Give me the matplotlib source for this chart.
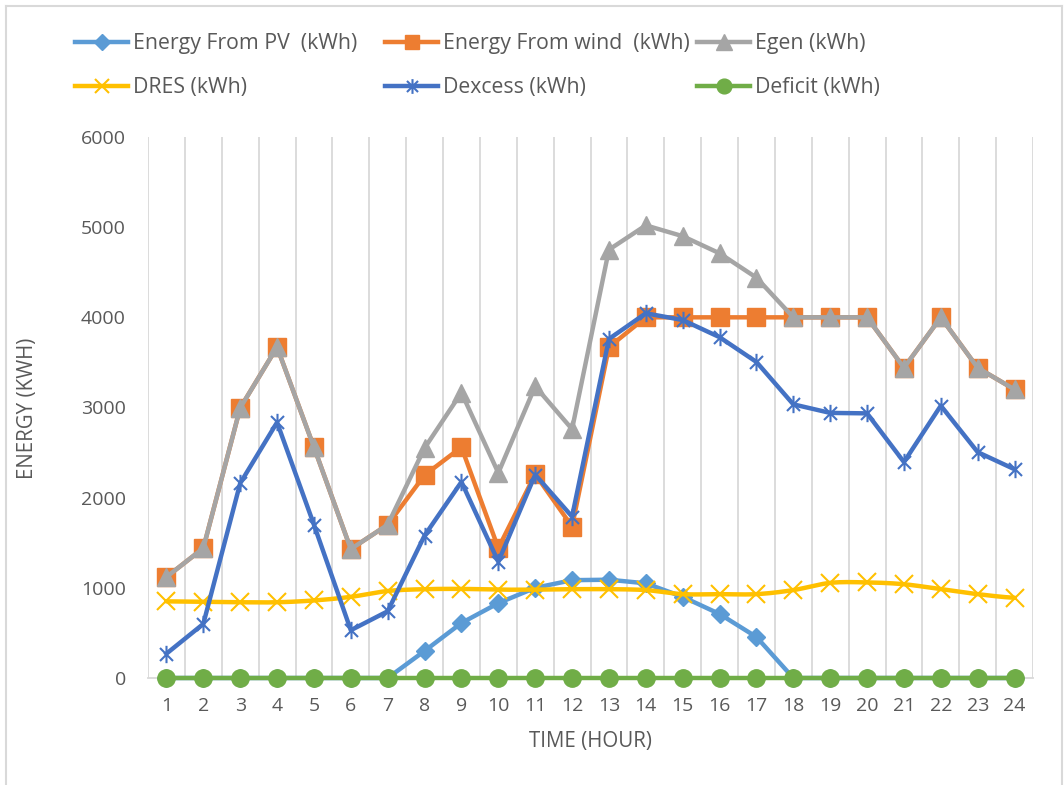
import numpy as np
import matplotlib
matplotlib.use("Agg")
import matplotlib.pyplot as plt
from matplotlib.lines import Line2D
from matplotlib.path import Path

hours = list(range(1, 25))
pv = [0, 0, 0, 0, 0, 0, 0, 300, 610, 830, 1000, 1085, 1090, 1050, 900, 710, 455, 0, 0, 0, 0, 0, 0, 0]
wind = [1120, 1440, 2995, 3670, 2560, 1430, 1700, 2250, 2560, 1440, 2260, 1680, 3670, 4000,
        4000, 4000, 4000, 4000, 4000, 4000, 3440, 4000, 3440, 3200]
egen = [1120, 1440, 2995, 3670, 2560, 1430, 1700, 2550, 3165, 2275, 3235, 2760, 4750, 5020,
        4900, 4710, 4440, 4000, 4000, 4000, 3440, 4000, 3440, 3200]
dres = [850, 845, 840, 840, 860, 900, 965, 985, 988, 980, 980, 985, 985, 975, 930, 930, 930,
        975, 1055, 1060, 1040, 985, 930, 890]
dexcess = [270, 600, 2160, 2835, 1700, 530, 740, 1580, 2175, 1290, 2255, 1790, 3760, 4045,
           3970, 3780, 3505, 3035, 2940, 2935, 2395, 3020, 2505, 2315]
deficit = [0] * 24
yticks = [0, 1000, 2000, 3000, 4000, 5000, 6000]

labels = ["Energy From PV  (kWh)", "Energy From wind  (kWh)", "Egen (kWh)",
          "DRES (kWh)", "Dexcess (kWh)", "Deficit (kWh)"]

FONT = "Open Sans"
TXT = "#595959"
plt.rcParams['font.family'] = [FONT, 'DejaVu Sans']

W, H = 1064, 785
fig = plt.figure(figsize=(W / 100, H / 100), dpi=100)
ax = fig.add_axes([148 / W, 1 - 678 / H, (1033 - 148) / W, (678 - 137) / H])

# chart border
for xs_, ys_ in [([6, 6], [785, 6]), ([1062, 1062], [785, 6]), ([6, 1062], [6, 6])]:
    fig.add_artist(Line2D([v / W for v in xs_], [1 - v / H for v in ys_], color="#D9D9D9",
                          lw=1.5, transform=fig.transFigure))

# asterisk marker (vertical + X)
d = 0.75
ast = Path([(0, -1), (0, 1), (-d, -d), (d, d), (-d, d), (d, -d)],
           [Path.MOVETO, Path.LINETO, Path.MOVETO, Path.LINETO, Path.MOVETO, Path.LINETO])


def smooth(xs, ys, n=20):
    xs = np.asarray(xs, float)
    ys = np.asarray(ys, float)
    px = np.concatenate([[2 * xs[0] - xs[1]], xs, [2 * xs[-1] - xs[-2]]])
    py = np.concatenate([[ys[0]], ys, [ys[-1]]])
    ox, oy = [], []
    for i in range(1, len(px) - 2):
        t = np.linspace(0, 1, n, endpoint=False)
        for arr, out in ((px, ox), (py, oy)):
            p0, p1, p2, p3 = arr[i - 1], arr[i], arr[i + 1], arr[i + 2]
            m1 = (p2 - p0) / 2
            m2 = (p3 - p1) / 2
            h00 = 2 * t ** 3 - 3 * t ** 2 + 1
            h10 = t ** 3 - 2 * t ** 2 + t
            h01 = -2 * t ** 3 + 3 * t ** 2
            h11 = t ** 3 - t ** 2
            out.extend(h00 * p1 + h10 * m1 + h01 * p2 + h11 * m2)
    ox.append(xs[-1])
    oy.append(ys[-1])
    return np.array(ox), np.array(oy)


LW = 3.2
styles = [
    dict(color="#5B9BD5", marker="D", ms=9.5),
    dict(color="#ED7D31", marker="s", ms=12.5),
    dict(color="#A5A5A5", marker="^", ms=13.5),
    dict(color="#FFC000", marker="x", ms=12.5, mew=1.5),
    dict(color="#4472C4", marker=ast, ms=12.5, mew=1.5),
    dict(color="#70AD47", marker="o", ms=12.5),
]
series = [pv, wind, egen, dres, dexcess, deficit]

handles = []
for i, (ys, st) in enumerate(zip(series, styles)):
    z = 3 + i
    mew = st.get("mew", 1)
    if i == 3:
        sx, sy = smooth(hours, ys)
        ax.plot(sx, sy, color=st["color"], lw=LW, zorder=z, solid_capstyle="round", clip_on=False)
        ax.plot(hours, ys, ls="none", marker=st["marker"], ms=st["ms"], color=st["color"],
                mew=mew, zorder=z, clip_on=False)
    else:
        ax.plot(hours, ys, color=st["color"], lw=LW, marker=st["marker"], ms=st["ms"],
                mew=mew, mec=st["color"], mfc=st["color"], zorder=z, solid_joinstyle="round",
                clip_on=False)
    handles.append(Line2D([], [], color=st["color"], lw=LW, marker=st["marker"],
                          ms=st["ms"] * 0.85, mew=mew, mec=st["color"], mfc=st["color"]))

ax.set_xlim(0.5, 24.5)
ax.set_ylim(0, 6000)
ax.set_yticks(yticks)
ax.set_xticks(hours)
ax.set_xticklabels([str(h) for h in hours])
ax.set_xticks(np.arange(0.5, 25, 1.0), minor=True)
ax.grid(True, which="minor", axis="x", color="#D9D9D9", lw=1.3)
ax.grid(False, which="major")
ax.tick_params(axis="both", which="both", length=0)
ax.tick_params(axis="y", pad=16, labelsize=14, labelcolor=TXT)
ax.tick_params(axis="x", pad=14, labelsize=14, labelcolor=TXT)
for s in ["top", "left", "right"]:
    ax.spines[s].set_visible(False)
ax.spines["bottom"].set_color("#D9D9D9")
ax.spines["bottom"].set_linewidth(1.3)
ax.set_axisbelow(True)

fig.text(28 / W, 1 - 408 / H, "ENERGY (KWH)", rotation=90, ha="center", va="center",
         fontsize=14.8, color=TXT)
fig.text(590 / W, 1 - 742 / H, "TIME (HOUR)", ha="center", va="center",
         fontsize=14.8, color=TXT)

# legend entries
fs = 15.3
fs_px = fs * 100 / 72
pos = [(75, 44), (385, 44), (697, 44), (75, 88), (385, 88), (697, 88)]
for h, lab, (lx, ly) in zip(handles, labels, pos):
    fig.legend([h], [lab], loc="center left", bbox_to_anchor=(lx / W, 1 - ly / H),
               frameon=False, fontsize=fs, handlelength=53 / fs_px,
               handletextpad=5 / fs_px, borderpad=0, borderaxespad=0,
               labelcolor=TXT)

fig.savefig("out.png", dpi=100)
